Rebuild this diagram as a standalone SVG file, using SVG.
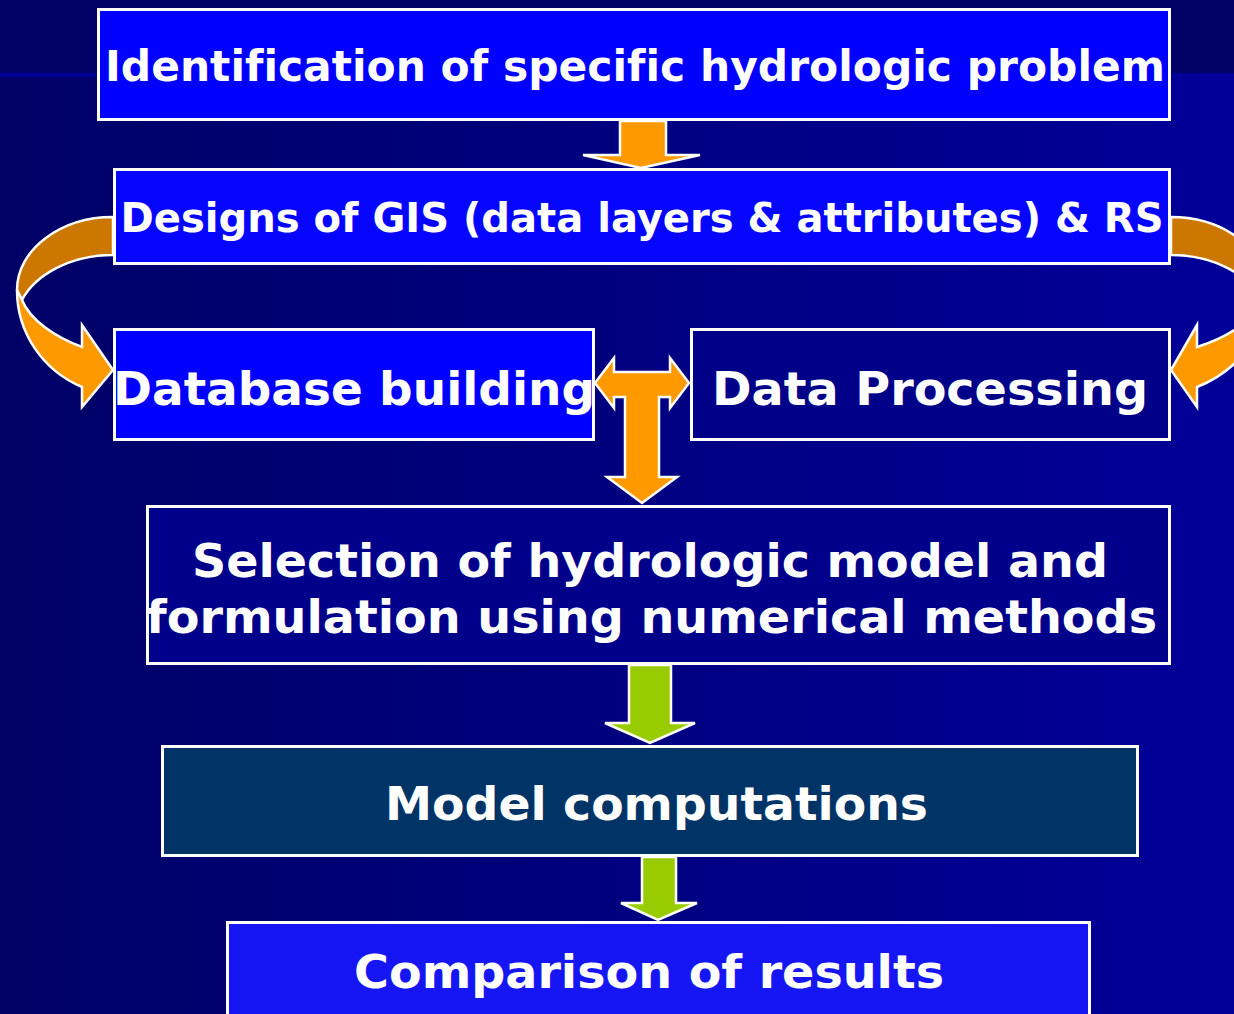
<svg xmlns="http://www.w3.org/2000/svg" width="1234" height="1014" viewBox="0 0 1234 1014">
  <defs>
    <linearGradient id="bg" x1="0" y1="0" x2="1" y2="0">
      <stop offset="0" stop-color="#000066"/>
      <stop offset="1" stop-color="#000099"/>
    </linearGradient>
    <style>
      .box { stroke: #ffffff; stroke-width: 3; }
      .lbl { font-family: "DejaVu Sans", Verdana, sans-serif; font-weight: bold; fill: #ffffff; text-anchor: middle; font-variant-ligatures: none; }
      .arr { stroke: #ffffff; stroke-width: 2.5; stroke-linejoin: miter; }
      .orange { fill: #ff9900; }
      .orange-dark { fill: #cc7700; }
      .green { fill: #99cc00; }
    </style>
  </defs>

  <!-- background -->
  <rect x="0" y="0" width="1234" height="1014" fill="url(#bg)"/>
  <rect x="0" y="0" width="1234" height="74" fill="#000066"/>
  <rect x="0" y="73" width="1234" height="4" fill="#000099"/>

  <!-- nodes -->
  <g id="problem">
    <rect class="box" x="98.5" y="9.5" width="1071" height="110" fill="#0000ff"/>
    <text class="lbl" x="635" y="81" font-size="42" textLength="1060" lengthAdjust="spacingAndGlyphs">Identification of specific hydrologic problem</text>
  </g>
  <g id="gis-design">
    <rect class="box" x="114.5" y="169.5" width="1055" height="94" fill="#0606ff"/>
    <text class="lbl" x="642" y="232" font-size="40" textLength="1043" lengthAdjust="spacingAndGlyphs">Designs of GIS (data layers &amp; attributes) &amp; RS</text>
  </g>
  <g id="database">
    <rect class="box" x="114.5" y="329.5" width="479" height="110" fill="#0000ff"/>
    <text class="lbl" x="354" y="405" font-size="47" textLength="482" lengthAdjust="spacingAndGlyphs">Database building</text>
  </g>
  <g id="processing">
    <rect class="box" x="691.5" y="329.5" width="478" height="110" fill="#000088"/>
    <text class="lbl" x="930" y="405" font-size="47" textLength="436" lengthAdjust="spacingAndGlyphs">Data Processing</text>
  </g>
  <g id="model-selection">
    <rect class="box" x="147.5" y="506.5" width="1022" height="157" fill="#00008a"/>
    <text class="lbl" x="650" y="577" font-size="47" textLength="916" lengthAdjust="spacingAndGlyphs">Selection of hydrologic model and</text>
    <text class="lbl" x="651.5" y="633" font-size="47" textLength="1011" lengthAdjust="spacingAndGlyphs">formulation using numerical methods</text>
  </g>
  <g id="computations">
    <rect class="box" x="162.5" y="746.5" width="975" height="109" fill="#003366"/>
    <text class="lbl" x="656.5" y="820" font-size="47" textLength="543" lengthAdjust="spacingAndGlyphs">Model computations</text>
  </g>
  <g id="comparison">
    <rect class="box" x="227.5" y="922.5" width="862" height="120" fill="#1616f5"/>
    <text class="lbl" x="649" y="988" font-size="47" textLength="590" lengthAdjust="spacingAndGlyphs">Comparison of results</text>
  </g>

  <!-- connectors -->
  <g id="connectors">
    <path class="arr orange" d="M620,121 L666,121 L666,155 L700,155 L641,168 L583,155 L620,155 Z"/>

    <!-- curved arrow to the left branch -->
    <path class="arr orange-dark" d="M113,217 C60,217 17,250 17,290 L22,300 C35,275 70,255 113,255 Z"/>
    <path class="arr orange" d="M17,290 C17,332 42,370 82,387 L82,407 L113,370 L82,325 L82,347 C55,337 30,320 22,300 Z"/>

    <!-- curved arrow to the right branch -->
    <path class="arr orange-dark" d="M1171,217 C1224,217 1267,250 1267,290 L1262,300 C1249,275 1214,255 1171,255 Z"/>
    <path class="arr orange" d="M1267,290 C1267,332 1240,370 1197,387 L1197,407 L1171,370 L1197,325 L1197,347 C1229,337 1254,320 1262,300 Z"/>

    <!-- two-way arrow with downward stem -->
    <path class="arr orange" d="M595,383 L614,358 L614,372 L670,372 L670,358 L689,383 L670,408 L670,397 L659,397 L659,477 L677,477 L642,503 L607,477 L625,477 L625,397 L614,397 L614,408 Z"/>

    <path class="arr green" d="M629,665 L671,665 L671,723 L695,723 L650,743 L605,723 L629,723 Z"/>
    <path class="arr green" d="M642,857 L676,857 L676,903 L697,903 L658,920 L621,903 L642,903 Z"/>
  </g>
</svg>
